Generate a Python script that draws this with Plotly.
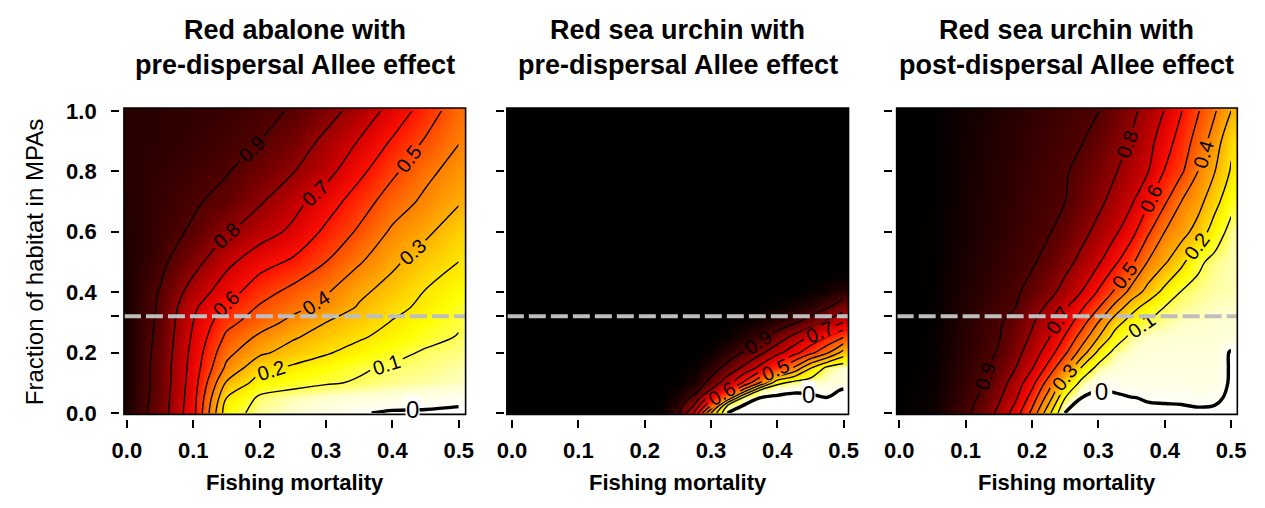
import plotly.graph_objects as go

# ---------------------------------------------------------------------------
# Data: relative yield surface over fishing mortality (x) and MPA fraction (y)
# ---------------------------------------------------------------------------
panel_titles = [
    ("Red abalone with", "pre-dispersal Allee effect"),
    ("Red sea urchin with", "pre-dispersal Allee effect"),
    ("Red sea urchin with", "post-dispersal Allee effect"),
]
x_title = "Fishing mortality"
y_title = "Fraction of habitat in MPAs"

x_tick_vals = [0.0, 0.1, 0.2, 0.3, 0.4, 0.5]
x_tick_text = ["0.0", "0.1", "0.2", "0.3", "0.4", "0.5"]
y_tick_vals = [0.0, 0.2, 0.32, 0.4, 0.6, 0.8, 1.0]
y_tick_text = ["0.0", "0.2", "", "0.4", "0.6", "0.8", "1.0"]

mpa_current = 0.32

# Red abalone, pre-dispersal Allee effect
fishing_abalone = [0.0, 0.05, 0.10, 0.15, 0.20, 0.25, 0.30, 0.35, 0.40, 0.45, 0.50]
mpa_abalone = [0.0, 0.05, 0.10, 0.15, 0.20, 0.25, 0.30, 0.35, 0.40, 0.50, 0.60, 0.70, 0.80, 0.90, 1.00]
abalone_pre = [
    [0.970, 0.856, 0.633, 0.142, 0.070, 0.045, 0.025, 0.008, 0.000, 0.000, 0.000],
    [0.970, 0.865, 0.640, 0.200, 0.085, 0.060, 0.045, 0.035, 0.030, 0.022, 0.012],
    [0.970, 0.870, 0.650, 0.290, 0.160, 0.130, 0.108, 0.093, 0.075, 0.065, 0.055],
    [0.970, 0.870, 0.660, 0.380, 0.230, 0.185, 0.150, 0.110, 0.090, 0.080, 0.065],
    [0.970, 0.875, 0.670, 0.430, 0.320, 0.260, 0.210, 0.165, 0.125, 0.090, 0.080],
    [0.970, 0.880, 0.685, 0.480, 0.380, 0.310, 0.260, 0.210, 0.170, 0.125, 0.095],
    [0.970, 0.885, 0.700, 0.530, 0.450, 0.370, 0.300, 0.250, 0.195, 0.150, 0.110],
    [0.970, 0.890, 0.720, 0.580, 0.490, 0.430, 0.370, 0.290, 0.225, 0.180, 0.130],
    [0.970, 0.895, 0.760, 0.645, 0.540, 0.470, 0.410, 0.320, 0.260, 0.195, 0.155],
    [0.965, 0.920, 0.835, 0.725, 0.640, 0.585, 0.500, 0.410, 0.320, 0.250, 0.200],
    [0.960, 0.930, 0.890, 0.810, 0.745, 0.680, 0.580, 0.485, 0.385, 0.320, 0.240],
    [0.955, 0.935, 0.910, 0.875, 0.810, 0.735, 0.650, 0.550, 0.450, 0.380, 0.310],
    [0.950, 0.940, 0.925, 0.905, 0.860, 0.805, 0.735, 0.625, 0.520, 0.425, 0.360],
    [0.950, 0.945, 0.935, 0.920, 0.900, 0.850, 0.780, 0.695, 0.590, 0.490, 0.405],
    [0.950, 0.945, 0.940, 0.930, 0.915, 0.895, 0.835, 0.765, 0.665, 0.555, 0.440],
]

# Red sea urchin, pre-dispersal Allee effect
fishing_urchin_pre = [0.0, 0.1, 0.2, 0.225, 0.25, 0.275, 0.3, 0.325, 0.35, 0.375, 0.4, 0.425, 0.45, 0.475, 0.5]
mpa_urchin_pre = [0.0, 0.025, 0.05, 0.075, 0.1, 0.15, 0.2, 0.25, 0.3, 0.35, 0.4, 0.45, 0.5, 0.7, 1.0]
urchin_pre = [
    [1.0, 1.0, 1.0, 0.990, 0.920, 0.690, 0.300, 0.003, 0.000, 0.000, 0.000, 0.000, 0.000, 0.000, 0.000],
    [1.0, 1.0, 1.0, 1.000, 0.950, 0.790, 0.500, 0.100, 0.000, 0.000, 0.000, 0.000, 0.000, 0.000, 0.000],
    [1.0, 1.0, 1.0, 1.000, 0.970, 0.870, 0.650, 0.380, 0.070, 0.003, 0.000, 0.000, 0.000, 0.004, 0.000],
    [1.0, 1.0, 1.0, 1.000, 0.985, 0.940, 0.790, 0.600, 0.360, 0.080, 0.015, 0.008, 0.010, 0.020, 0.000],
    [1.0, 1.0, 1.0, 1.000, 0.995, 0.970, 0.870, 0.740, 0.580, 0.390, 0.130, 0.070, 0.050, 0.040, 0.030],
    [1.0, 1.0, 1.0, 1.000, 1.000, 0.990, 0.950, 0.870, 0.780, 0.670, 0.540, 0.390, 0.210, 0.080, 0.040],
    [1.0, 1.0, 1.0, 1.000, 1.000, 1.000, 0.985, 0.950, 0.895, 0.820, 0.730, 0.640, 0.530, 0.420, 0.260],
    [1.0, 1.0, 1.0, 1.000, 1.000, 1.000, 1.000, 0.990, 0.960, 0.920, 0.860, 0.770, 0.680, 0.590, 0.500],
    [1.0, 1.0, 1.0, 1.000, 1.000, 1.000, 1.000, 1.000, 0.990, 0.975, 0.950, 0.915, 0.860, 0.780, 0.700],
    [1.0, 1.0, 1.0, 1.000, 1.000, 1.000, 1.000, 1.000, 1.000, 1.000, 0.990, 0.975, 0.950, 0.910, 0.840],
    [1.0, 1.0, 1.0, 1.000, 1.000, 1.000, 1.000, 1.000, 1.000, 1.000, 1.000, 1.000, 0.990, 0.975, 0.950],
    [1.0, 1.0, 1.0, 1.000, 1.000, 1.000, 1.000, 1.000, 1.000, 1.000, 1.000, 1.000, 1.000, 1.000, 0.990],
    [1.0, 1.0, 1.0, 1.000, 1.000, 1.000, 1.000, 1.000, 1.000, 1.000, 1.000, 1.000, 1.000, 1.000, 1.000],
    [1.0, 1.0, 1.0, 1.000, 1.000, 1.000, 1.000, 1.000, 1.000, 1.000, 1.000, 1.000, 1.000, 1.000, 1.000],
    [1.0, 1.0, 1.0, 1.000, 1.000, 1.000, 1.000, 1.000, 1.000, 1.000, 1.000, 1.000, 1.000, 1.000, 1.000],
]

# Red sea urchin, post-dispersal Allee effect
fishing_urchin_post = [0.0, 0.05, 0.1, 0.125, 0.15, 0.175, 0.2, 0.225, 0.25, 0.275,
                       0.3, 0.325, 0.35, 0.375, 0.4, 0.425, 0.45, 0.475, 0.5]
mpa_urchin_post = [0.0, 0.05, 0.10, 0.15, 0.20, 0.25, 0.30, 0.35, 0.40, 0.50, 0.60, 0.70, 0.80, 0.90, 1.00]
urchin_post = [
    [1.0, 0.985, 0.916, 0.861, 0.778, 0.653, 0.473, 0.230, 0.000, 0.000, 0.000, 0.000, 0.000, 0.000, 0.000, 0.000, 0.000, 0.000, 0.000],
    [1.0, 0.987, 0.926, 0.888, 0.815, 0.717, 0.557, 0.350, 0.100, 0.004, 0.000, 0.000, 0.004, 0.007, 0.008, 0.009, 0.013, 0.010, 0.000],
    [1.0, 0.990, 0.934, 0.906, 0.843, 0.760, 0.633, 0.458, 0.222, 0.070, 0.011, 0.015, 0.025, 0.025, 0.025, 0.025, 0.030, 0.025, 0.000],
    [1.0, 0.992, 0.940, 0.915, 0.870, 0.803, 0.709, 0.569, 0.400, 0.192, 0.070, 0.040, 0.030, 0.030, 0.030, 0.030, 0.030, 0.030, 0.000],
    [1.0, 0.993, 0.946, 0.922, 0.895, 0.831, 0.754, 0.650, 0.517, 0.353, 0.177, 0.070, 0.045, 0.035, 0.035, 0.035, 0.035, 0.035, 0.000],
    [1.0, 0.994, 0.949, 0.927, 0.904, 0.851, 0.787, 0.706, 0.590, 0.456, 0.300, 0.158, 0.070, 0.050, 0.045, 0.040, 0.040, 0.040, 0.035],
    [1.0, 0.995, 0.953, 0.931, 0.910, 0.869, 0.810, 0.740, 0.652, 0.541, 0.400, 0.243, 0.154, 0.095, 0.070, 0.055, 0.050, 0.045, 0.040],
    [1.0, 0.995, 0.957, 0.938, 0.919, 0.900, 0.843, 0.783, 0.714, 0.613, 0.508, 0.370, 0.239, 0.156, 0.097, 0.075, 0.065, 0.055, 0.050],
    [1.0, 0.996, 0.961, 0.944, 0.927, 0.910, 0.878, 0.827, 0.767, 0.697, 0.588, 0.484, 0.363, 0.262, 0.170, 0.095, 0.075, 0.065, 0.060],
    [1.0, 0.997, 0.967, 0.952, 0.937, 0.923, 0.908, 0.877, 0.829, 0.775, 0.713, 0.617, 0.522, 0.394, 0.313, 0.225, 0.118, 0.075, 0.060],
    [1.0, 0.997, 0.971, 0.958, 0.945, 0.931, 0.918, 0.905, 0.872, 0.826, 0.775, 0.718, 0.632, 0.515, 0.400, 0.338, 0.262, 0.153, 0.070],
    [1.0, 0.998, 0.974, 0.961, 0.949, 0.937, 0.925, 0.913, 0.900, 0.861, 0.820, 0.770, 0.712, 0.609, 0.515, 0.400, 0.336, 0.235, 0.130],
    [1.0, 0.998, 0.975, 0.963, 0.952, 0.940, 0.929, 0.917, 0.906, 0.881, 0.844, 0.807, 0.757, 0.702, 0.594, 0.516, 0.400, 0.304, 0.190],
    [1.0, 0.998, 0.977, 0.966, 0.956, 0.945, 0.935, 0.924, 0.914, 0.903, 0.873, 0.834, 0.792, 0.731, 0.650, 0.555, 0.461, 0.354, 0.220],
    [1.0, 0.998, 0.979, 0.969, 0.959, 0.950, 0.940, 0.930, 0.921, 0.911, 0.902, 0.864, 0.821, 0.765, 0.696, 0.604, 0.508, 0.412, 0.300],
]

panels = [
    (fishing_abalone, mpa_abalone, abalone_pre),
    (fishing_urchin_pre, mpa_urchin_pre, urchin_pre),
    (fishing_urchin_post, mpa_urchin_post, urchin_post),
]

# where the "0" label sits on the short zero-yield contours (x, y) per panel
zero_label_at = [(0.43, 0.012), (0.447, 0.062), None]

# ---------------------------------------------------------------------------
# Styling
# ---------------------------------------------------------------------------
W, H = 1265, 508
FONT = "Liberation Sans, Arial, Helvetica, sans-serif"

heat_scale = [
    [0.00, "#FFFFFF"], [0.05, "#FFFFCC"], [0.10, "#FFFF50"], [0.15, "#FFFF00"],
    [0.20, "#FFE600"], [0.30, "#FFB200"], [0.40, "#FF8000"], [0.50, "#FF4800"],
    [0.60, "#FF1000"], [0.70, "#D40000"], [0.80, "#960000"], [0.90, "#520000"],
    [1.00, "#000000"],
]

# pixel geometry of each plotting box: (left, right, pixel of x=0, pixel of x=0.5)
boxes = [(113, 461, 116.0, 454.0), (503, 851, 508.3, 846.0), (900, 1247, 902.7, 1240.7)]
box_top, box_bottom = 103, 422
y0_px, y1_px = 420.5, 106.0          # pixel rows of y=0 and y=1
yaxis_px = [108, 500, 895.5]          # where the left tick marks attach
xaxis_px = 427                        # where the bottom tick marks attach

fig = go.Figure()
layout = dict(
    width=W, height=H,
    margin=dict(l=0, r=0, t=0, b=0),
    paper_bgcolor="white", plot_bgcolor="white",
    showlegend=False,
    font=dict(family=FONT, color="black"),
)
shapes, annotations = [], []

y_per_px = 1.0 / (y0_px - y1_px)
y_range = [-(box_bottom - y0_px) * y_per_px, (y0_px - box_top) * y_per_px]

for i, ((fx, fy, fz), (bl, br, p0, p5)) in enumerate(zip(panels, boxes)):
    n = "" if i == 0 else str(i + 1)
    xa, ya = "x" + n, "y" + n
    x_per_px = 0.5 / (p5 - p0)
    x_range = [(bl - p0) * x_per_px, (br - p0) * x_per_px]

    fig.add_trace(go.Heatmap(
        x=fx, y=fy, z=fz, zmin=0, zmax=1, zsmooth="best",
        colorscale=heat_scale, showscale=False, hoverinfo="skip",
        xaxis=xa, yaxis=ya,
    ))
    fig.add_trace(go.Contour(
        x=fx, y=fy, z=fz,
        contours=dict(start=0.1, end=0.9, size=0.1, coloring="none",
                      showlabels=True, labelformat=".1f",
                      labelfont=dict(family=FONT, size=20, color="black")),
        line=dict(color="black", width=1.4, smoothing=1.0),
        showscale=False, hoverinfo="skip", xaxis=xa, yaxis=ya,
    ))
    fig.add_trace(go.Contour(
        x=fx, y=fy, z=fz,
        contours=dict(start=0.005, end=0.0051, size=0.01, coloring="none",
                      showlabels=(zero_label_at[i] is None), labelformat=".0f",
                      labelfont=dict(family=FONT, size=24, color="black")),
        line=dict(color="black", width=3.4, smoothing=1.0),
        showscale=False, hoverinfo="skip", xaxis=xa, yaxis=ya,
    ))
    if zero_label_at[i] is not None:
        zx, zy = zero_label_at[i]
        annotations.append(dict(text="0", x=zx, y=zy, xref=xa, yref=ya,
                                showarrow=False, xanchor="center", yanchor="middle",
                                bgcolor="white", borderpad=0,
                                font=dict(family=FONT, size=24, color="black")))

    layout["xaxis" + n] = dict(
        domain=[bl / W, br / W], range=x_range, anchor="free",
        position=1 - xaxis_px / H,
        tickvals=x_tick_vals, ticktext=x_tick_text,
        ticks="outside", ticklen=8, tickwidth=1.5, tickcolor="black",
        ticklabelstandoff=3,
        tickfont=dict(family=FONT, size=22, color="black", weight="bold"),
        showgrid=False, zeroline=False, showline=False, fixedrange=True,
    )
    layout["yaxis" + n] = dict(
        domain=[1 - box_bottom / H, 1 - box_top / H], range=y_range,
        anchor="free", position=yaxis_px[i] / W,
        tickvals=y_tick_vals, ticktext=y_tick_text,
        ticks="outside", ticklen=8, tickwidth=1.5, tickcolor="black",
        ticklabelstandoff=10, showticklabels=(i == 0),
        tickfont=dict(family=FONT, size=22, color="black", weight="bold"),
        showgrid=False, zeroline=False, showline=False, fixedrange=True,
    )

    # current MPA coverage
    shapes.append(dict(type="line", xref=xa + " domain", yref=ya,
                       x0=0, x1=1, y0=mpa_current, y1=mpa_current,
                       line=dict(color="#BEBEBE", width=4, dash="17px,5px")))
    # frame
    shapes.append(dict(type="rect", xref=xa + " domain", yref=ya + " domain",
                       x0=0, x1=1, y0=0, y1=1,
                       line=dict(color="black", width=1.6)))

    cx = (bl + br) / 2 / W
    annotations.append(dict(text=panel_titles[i][0], x=cx, y=1 - 22 / H,
                            xref="paper", yref="paper", showarrow=False,
                            xanchor="center", yanchor="middle",
                            font=dict(family=FONT, size=27, weight="bold")))
    annotations.append(dict(text=panel_titles[i][1], x=cx, y=1 - 58 / H,
                            xref="paper", yref="paper", showarrow=False,
                            xanchor="center", yanchor="middle",
                            font=dict(family=FONT, size=27, weight="bold")))
    annotations.append(dict(text=x_title, x=cx, y=1 - 493 / H,
                            xref="paper", yref="paper", showarrow=False,
                            xanchor="center", yanchor="middle",
                            font=dict(family=FONT, size=22, weight="bold")))

annotations.append(dict(text=y_title, x=22 / W, y=1 - 264 / H, textangle=-90,
                        xref="paper", yref="paper", showarrow=False,
                        xanchor="center", yanchor="middle",
                        font=dict(family=FONT, size=24)))

layout["shapes"] = shapes
layout["annotations"] = annotations
fig.update_layout(**layout)

fig.write_html("out.html")
